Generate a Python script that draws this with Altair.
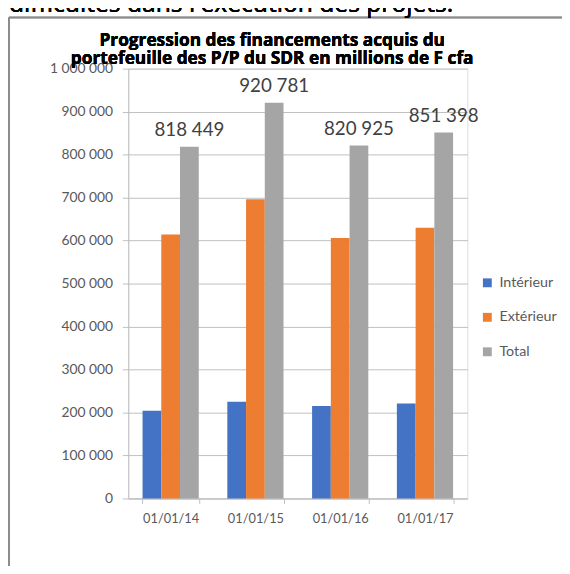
import altair as alt
import pandas as pd

dates = ["01/01/14", "01/01/15", "01/01/16", "01/01/17"]
series = ["Intérieur", "Extérieur", "Total"]
interieur = [204000, 225000, 215000, 221000]
exterieur = [614000, 696000, 606000, 630000]
total = [818449, 920781, 820925, 851398]
colors = ["#4472C4", "#ED7D31", "#A5A5A5"]
y_ticks = [0, 100000, 200000, 300000, 400000, 500000, 600000, 700000, 800000, 900000, 1000000]
title_lines = ["Progression des financements acquis du",
               "portefeuille des P/P du SDR en millions de F cfa"]
heading = "difficultés dans l'exécution des projets."

rows = []
for i, d in enumerate(dates):
    for s, vals in zip(series, [interieur, exterieur, total]):
        rows.append({"date": d, "serie": s, "valeur": vals[i]})
df = pd.DataFrame(rows)
df_total = pd.DataFrame({"date": dates, "serie": ["Total"] * len(dates), "valeur": total})

x_enc = alt.X(
    "date:N", sort=dates,
    scale=alt.Scale(paddingInner=0.337, paddingOuter=0.1685),
    axis=alt.Axis(title=None, labelAngle=0, tickBand="extent", grid=False,
                  domainColor="#BFBFBF", tickColor="#BFBFBF", tickSize=5,
                  labelColor="#595959", labelFont="Lato", labelFontSize=13,
                  labelPadding=9),
)
xo_enc = alt.XOffset("serie:N", sort=series, scale=alt.Scale(domain=series, paddingInner=0, paddingOuter=0))
y_enc = alt.Y(
    "valeur:Q",
    scale=alt.Scale(domain=[0, 1000000], nice=False),
    axis=alt.Axis(title=None, values=y_ticks, format=",d", grid=True,
                  gridColor="#BFBFBF", domainColor="#BFBFBF", tickColor="#BFBFBF",
                  tickSize=6, labelColor="#595959", labelFont="Lato", labelFontSize=14,
                  labelPadding=10),
)

bars = alt.Chart(df).mark_bar().encode(
    x=x_enc,
    xOffset=xo_enc,
    y=y_enc,
    color=alt.Color(
        "serie:N", sort=series,
        scale=alt.Scale(domain=series, range=colors),
        legend=alt.Legend(orient="none", legendX=357, legendY=210, title=None,
                          symbolType="square", symbolSize=81, symbolStrokeWidth=0,
                          labelFont="Lato", labelFontSize=14.5, labelColor="#595959",
                          rowPadding=20, padding=0, labelOffset=5),
    ),
)

labels = alt.Chart(df_total).mark_text(
    font="Lato", fontSize=19, color="#404040", baseline="middle", dy=-17
).encode(
    x=alt.X("date:N", sort=dates),
    xOffset=alt.XOffset("serie:N", sort=series),
    y=alt.Y("valeur:Q"),
    text=alt.Text("valeur:Q", format=",d"),
)

frame_top = alt.Chart(df_total).mark_rule(color="#8C8C8C", strokeWidth=1.5).encode(
    x=alt.value(-121), x2=alt.value(460), y=alt.value(-52)
)
frame_left = alt.Chart(df_total).mark_rule(color="#8C8C8C", strokeWidth=1.5).encode(
    x=alt.value(-121), y=alt.value(-52), y2=alt.value(520)
)

head = alt.Chart(df_total).mark_text(
    font="Open Sans", fontSize=25, color="#000000", align="left", baseline="alphabetic"
).encode(x=alt.value(-121), y=alt.value(-57), text=alt.value(heading))

t1 = alt.Chart(df_total).mark_text(
    font="Open Sans", fontSize=17.5, fontWeight="bold", color="#000000", align="center", baseline="alphabetic"
).encode(x=alt.value(146), y=alt.value(-23), text=alt.value(title_lines[0]))
t2 = alt.Chart(df_total).mark_text(
    font="Open Sans", fontSize=17.5, fontWeight="bold", color="#000000", align="center", baseline="alphabetic"
).encode(x=alt.value(146), y=alt.value(-4.5), text=alt.value(title_lines[1]))

chart = alt.layer(bars, labels, frame_top, frame_left, head, t1, t2).properties(
    width=344, height=436,
    autosize=alt.AutoSizeParams(type="none"),
    padding={"left": 122, "top": 57.5, "right": 96, "bottom": 64.5},
).configure_view(stroke=None).configure(
    background="white",
    locale={"number": {"decimal": ",", "thousands": " ", "grouping": [3], "currency": ["", ""]}},
)

chart.save("out.html", embed_options={"renderer": "svg", "actions": False})
